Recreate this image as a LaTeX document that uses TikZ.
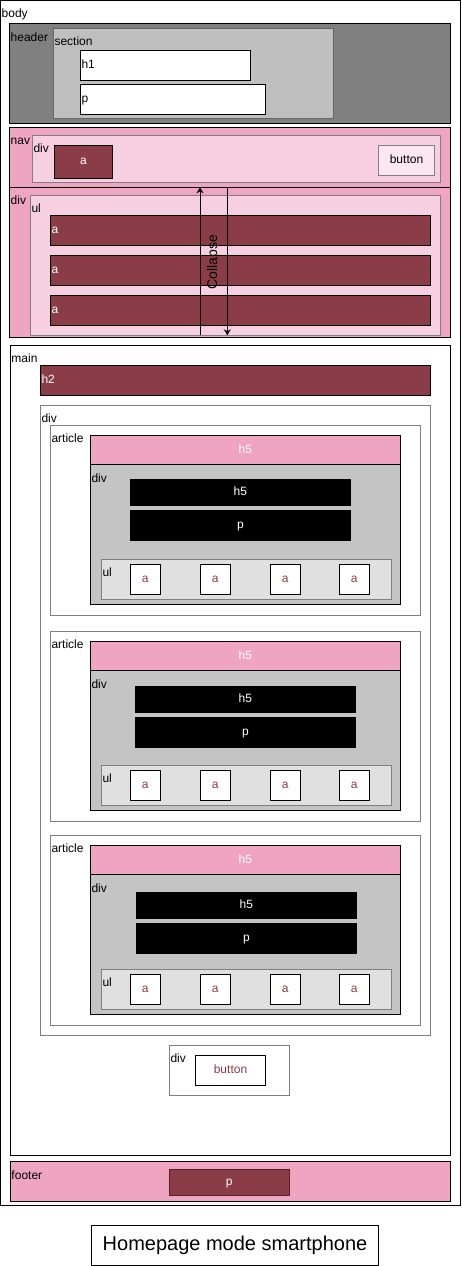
\documentclass[tikz,border=0pt]{standalone}
\usepackage{fontspec}
\setmainfont{Liberation Sans}
\usetikzlibrary{arrows.meta}

\definecolor{wine}{RGB}{139,61,71}
\definecolor{rose}{RGB}{239,164,194}
\definecolor{blush}{RGB}{246,208,224}
\definecolor{petal}{RGB}{252,230,239}
\definecolor{smoke}{RGB}{128,128,128}
\definecolor{ash}{RGB}{191,191,191}
\definecolor{slate}{RGB}{196,196,196}
\definecolor{mist}{RGB}{224,224,224}
\definecolor{edge}{RGB}{102,102,102}

\tikzset{
  box/.style args={#1/#2/#3/#4}{draw, line width=1pt, inner sep=0pt,
    minimum width={(#3)-(#1)}, minimum height={(#4)-(#2)},
    at={({((#1)+(#3))/2},{((#2)+(#4))/2})},
    text height=8.6pt, text depth=2.5pt},
  tag/.style={anchor=north west, inner sep=0pt, xshift=1.5pt, yshift=-9pt,
    text height=8.6pt, text depth=2.5pt},
  lbl/.style={anchor=west, inner sep=0pt, xshift=1.5pt,
    text height=8.6pt, text depth=2.5pt},
  tagged/.style={label={[tag]north west:#1}},
  flip/.style={-{Stealth[length=6pt,width=7pt]}, line width=1pt},
}

\begin{document}
\begin{tikzpicture}[x=1pt, y=-1pt, font=\fontsize{12}{14}\selectfont]
  \useasboundingbox (0,0) rectangle (461,1266);

  % Body
  \node[box=0.5/0.5/460/1205.3, fill=white, tagged=body] (body) {};

  % Header
  \node[box=9.5/23.7/450/123, fill=smoke, tagged=header] (header) {};
  \node[box=53.3/28.3/333.3/118.3, draw=edge, fill=ash, tagged=section] (section) {};
  \node[box=80.3/50.3/250.3/80.3, fill=white, label={[lbl]west:h1}] (h1) {};
  \node[box=80.3/84.3/265.3/114.3, fill=white, label={[lbl]west:p}] (intro) {};

  % Nav
  \node[box=9.5/127.3/450/187.3, fill=rose, tagged=nav] (nav) {};
  \node[box=32.3/135.3/440.7/182.7, draw=smoke, fill=blush, tagged=div] (navdiv) {};
  \node[box=54.3/145.3/112.7/178.3, fill=wine, text=white] (logo) {a};
  \node[box=378.3/145.3/434.7/175.3, draw=smoke, fill=petal] (menubtn) {button};

  % Dropdown menu
  \node[box=9.5/187.3/450/337.3, fill=rose, tagged=div] (drop) {};
  \node[box=30.3/195.3/440.7/335.3, draw=smoke, fill=blush, tagged=ul] (menu) {};
  \foreach \y [count=\i] in {215.3,255.3,295.3}
    \node[box=50.3/\y/430.3/\y+30, fill=wine,
      label={[lbl,text=white]west:a}] (link\i) {};

  % Collapse arrows
  \coordinate (upS) at (200,335.3);
  \coordinate (upE) at (200,187.3);
  \coordinate (dnS) at (227.3,187.3);
  \coordinate (dnE) at (227.3,335.3);
  \draw[flip] (upS) -- (upE);
  \draw[flip] (dnS) -- (dnE);
  \node[rotate=90, inner sep=0pt, font=\fontsize{14}{16}\selectfont] (collapse) at (213.6,262) {Collapse};

  % Main
  \node[box=10.3/345.3/450.3/1155.3, fill=white, tagged=main] (main) {};
  \node[box=40.3/365.3/430.3/395.3, fill=wine,
    label={[lbl,text=white]west:h2}] (h2) {};
  \node[box=40.3/405.3/430.3/1035, draw=smoke, fill=white, tagged=div] (cards) {};

  % Articles
  \foreach \t/\bx/\by [count=\i] in {425.3/130/479, 631.3/135/686, 835.3/136/892} {
    \node[box=50.3/\t/420.3/\t+190, draw=smoke, fill=white, tagged=article] (card\i) {};
    \node[box=90.3/\t+10/400.3/\t+39.5, fill=rose, text=white] (title\i) {h5};
    \node[box=90.3/\t+39.5/400.3/\t+179.5, fill=slate, tagged=div] (inner\i) {};
    \node[box=\bx/\by/\bx+220.7/\by+26.7, fill=black, text=white] (sub\i) {h5};
    \node[box=\bx/\by+31/\bx+220.7/\by+61.7, fill=black, text=white] (text\i) {p};
    \node[box=101.3/\t+134/391.7/\t+174, draw=smoke, fill=mist, tagged=ul] (tags\i) {};
    \foreach \ax [count=\j] in {130.3,200.3,270.3,339.3}
      \node[box=\ax/\t+139/\ax+30/\t+169, fill=white, text=wine] (tab\i-\j) {a};
  }

  % More button
  \node[box=169.3/1045.3/289.3/1095.3, draw=smoke, fill=white, tagged=div] (more) {};
  \node[box=195.3/1055.3/265.7/1085.3, fill=white, text=wine] (morebtn) {button};

  % Footer
  \node[box=10.3/1161.7/450.3/1201.3, fill=rose, tagged=footer] (footer) {};
  \node[box=169.3/1169.3/289.3/1195.3, fill=wine, draw=wine!60!black, text=white] (credits) {p};

  % Caption
  \node[box=91.7/1225.3/378.3/1265.3, fill=white, font=\fontsize{20}{24}\selectfont,
    text height=14.3pt, text depth=4.2pt] (caption) {Homepage mode smartphone};
\end{tikzpicture}
\end{document}
